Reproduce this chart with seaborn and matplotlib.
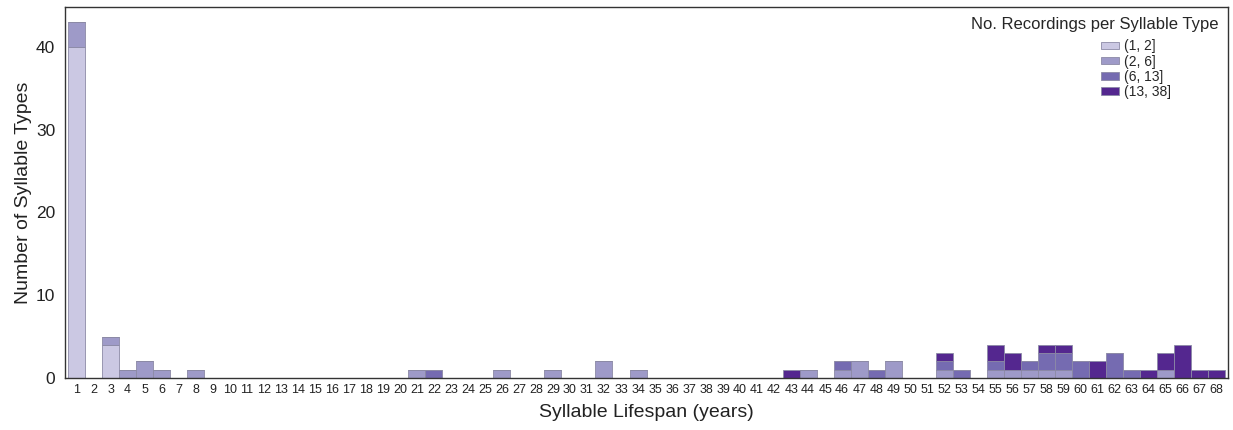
import numpy as np
import pandas as pd
import matplotlib
matplotlib.use("Agg")
import matplotlib.pyplot as plt
from matplotlib.offsetbox import HPacker, DrawingArea
import seaborn as sns

years = list(range(1, 69))
cat_labels = ["(1, 2]", "(2, 6]", "(6, 13]", "(13, 38]"]
colors = ["#cbc8e3", "#9e9ac8", "#756bb1", "#54278f"]

# counts per lifespan (year: count) for each recordings-per-type bin
c_1_2 = {1: 40, 3: 4}
c_2_6 = {1: 3, 3: 1, 4: 1, 5: 2, 6: 1, 8: 1, 21: 1, 26: 1, 29: 1, 32: 2, 34: 1,
         44: 1, 46: 1, 47: 2, 49: 2, 52: 1, 55: 1, 56: 1, 57: 1, 58: 1, 59: 1, 65: 1}
c_6_13 = {22: 1, 46: 1, 48: 1, 52: 1, 53: 1, 55: 1, 57: 1, 58: 2, 59: 2, 60: 2,
          62: 3, 63: 1}
c_13_38 = {43: 1, 52: 1, 55: 2, 56: 2, 58: 1, 59: 1, 61: 2, 64: 1, 65: 2, 66: 4,
           67: 1, 68: 1}

rows = []
for lab, d in zip(cat_labels, [c_1_2, c_2_6, c_6_13, c_13_38]):
    for y in years:
        rows.append({"lifespan": y, "group": lab, "n": d.get(y, 0)})
df = pd.DataFrame(rows)

sns.set_style("white")
plt.rcParams["font.family"] = ["Liberation Sans", "DejaVu Sans"]

fig = plt.figure(figsize=(12.33, 4.30), dpi=100)
ax = fig.add_axes([0.0527, 0.121, 0.9433, 0.8627])

pal = dict(zip(cat_labels, colors))
sns.histplot(data=df, x="lifespan", weights="n", hue="group",
             hue_order=cat_labels[::-1], palette=pal, multiple="stack",
             discrete=True, alpha=1, edgecolor="#8c8aa6", linewidth=0.6,
             legend=False, ax=ax)

ax.set_xlim(0.32, 68.68)
ax.set_ylim(0, 44.8)
ax.set_xticks(years)
ax.set_xticklabels([str(y) for y in years], fontsize=9, color="#222222")
ax.set_yticks([0, 10, 20, 30, 40])
ax.tick_params(axis="y", labelsize=12.5, length=0, pad=7, colors="#222222")
ax.tick_params(axis="x", length=0, pad=4)
ax.set_xlabel("Syllable Lifespan (years)", fontsize=14, color="#222222", labelpad=6)
ax.set_ylabel("Number of Syllable Types", fontsize=14, color="#222222", labelpad=3)
for sp in ax.spines.values():
    sp.set_visible(True)
    sp.set_color("#333333")
    sp.set_linewidth(1.0)

handles = [plt.Rectangle((0, 0), 1, 1, facecolor=c, edgecolor="#8c8aa6", linewidth=0.6)
           for c in colors]
leg = ax.legend(handles, cat_labels, title="No. Recordings per Syllable Type",
                loc="upper right", frameon=False, fontsize=10, title_fontsize=12,
                handlelength=1.3, handleheight=0.45, labelspacing=0.09,
                handletextpad=0.35, borderaxespad=0.3)
# right-align the block, but keep entries offset left of the title's right end
box = leg._legend_box
spacer = DrawingArea(34, 1)
shifted = HPacker(children=[leg._legend_handle_box, spacer], pad=0, sep=0, align="top")
shifted.set_figure(fig)
box._children = [box._children[0], shifted]
box.align = "right"
box.sep = 5.5

fig.savefig("out.png", dpi=100)
